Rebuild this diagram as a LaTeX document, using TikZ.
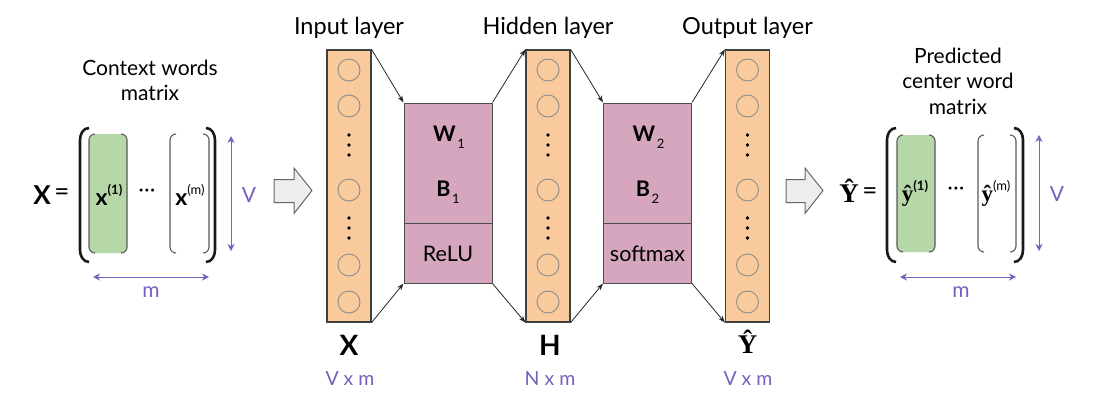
\documentclass[tikz,border=0pt]{standalone}
\usepackage{fontspec}
\setmainfont{Lato}
\newfontfamily\serifb{Liberation Serif}
\usetikzlibrary{arrows.meta,calc}
\definecolor{corange}{HTML}{F9CB9C}
\definecolor{cpink}{HTML}{D5A6BD}
\definecolor{cgreen}{HTML}{B6D7A8}
\definecolor{cpurple}{RGB}{120,95,190}
\begin{document}
\begin{tikzpicture}[x=1pt,y=-1pt,
  layercol/.style={draw=black!75, fill=corange, line width=1.2pt, minimum width=44pt, minimum height=272pt, inner sep=0pt},
  wbox/.style={draw=black!70, fill=cpink, line width=1pt, minimum width=88pt, minimum height=180pt, inner sep=0pt},
  neuron/.style={circle, draw=black!45, minimum size=22pt, inner sep=0pt, line width=0.9pt},
  conn/.style={-{Stealth[length=7pt,width=5pt]}, line width=0.8pt, black!85},
  title/.style={font=\fontsize{23.5}{25}\selectfont, align=center, inner sep=0pt},
  dimlab/.style={text=cpurple, font=\fontsize{19.5}{20}\selectfont, inner sep=0pt},
  dimarrow/.style={{Stealth[length=7pt,width=7pt]}-{Stealth[length=7pt,width=7pt]}, cpurple, line width=1pt},
  blockarrow/.style={draw=black!60, fill=black!7, line width=1pt, line join=miter},
  bigsym/.style={font=\fontsize{28}{28}\selectfont\bfseries, inner sep=0pt},
  boxtxt/.style={font=\fontsize{21.5}{21.5}\selectfont, inner sep=0pt},
  eqsign/.style={font=\fontsize{26}{26}\selectfont, inner sep=0pt},
  outerparen/.style={line width=2.6pt, black!90},
  innerparen/.style={line width=1.1pt, black!65},
  sidelab/.style={text=cpurple, font=\fontsize{21}{21}\selectfont, inner sep=0pt},
]
\useasboundingbox (0,0) rectangle (1098,402);

% ---------- layers ----------
\node[layercol] (in) at (349,186) {};
\node[layercol] (hid) at (548,186) {};
\node[layercol] (out) at (747.5,186) {};
\foreach \c/\xx in {in/349,hid/548,out/747.5}{
  \foreach \yy/\n in {70/1,106/2,190/3,265/4,302/5}
    \node[neuron] (\c\n) at (\xx,\yy) {};
  \foreach \yy in {135,145,155,218,228,238}
    \fill (\xx,\yy) circle (1.8);
}

% ---------- weight boxes ----------
\node[wbox] (b1) at (448,193) {};
\node[wbox] (b2) at (647.5,193) {};
\coordinate (dv) at (0,223);
\draw[black!70, line width=1pt] (b1.west |- dv) -- (b1.east |- dv);
\draw[black!70, line width=1pt] (b2.west |- dv) -- (b2.east |- dv);
\node[boxtxt] (w1) at (449,137) {\textbf{W}\hspace{1.5pt}\raisebox{-0.6ex}{\fontsize{13}{13}\selectfont 1}};
\node[boxtxt] (bb1) at (448,192) {\textbf{B}\hspace{1.5pt}\raisebox{-0.6ex}{\fontsize{13}{13}\selectfont 1}};
\node[boxtxt] (r1) at (448,254) {ReLU};
\node[boxtxt] (w2) at (648.5,137) {\textbf{W}\hspace{1.5pt}\raisebox{-0.6ex}{\fontsize{13}{13}\selectfont 2}};
\node[boxtxt] (bb2) at (647.5,192) {\textbf{B}\hspace{1.5pt}\raisebox{-0.6ex}{\fontsize{13}{13}\selectfont 2}};
\node[boxtxt] (s2) at (647.5,254) {softmax};

% ---------- connectors ----------
\draw[conn] (in.north east) -- (b1.north west);
\draw[conn] (in.south east) -- (b1.south west);
\draw[conn] (b1.north east) -- (hid.north west);
\draw[conn] (b1.south east) -- (hid.south west);
\draw[conn] (hid.north east) -- (b2.north west);
\draw[conn] (hid.south east) -- (b2.south west);
\draw[conn] (b2.north east) -- (out.north west);
\draw[conn] (b2.south east) -- (out.south west);

% ---------- layer labels ----------
\node[title] (tin) at (349,28) {Input layer};
\node[title] (thid) at (548,28) {Hidden layer};
\node[title] (tout) at (747.5,28) {Output layer};
\node[bigsym] (lx) at (349,345) {X};
\node[bigsym] (lh) at (550,345) {H};
\node[bigsym, font=\fontsize{27}{27}\selectfont\serifb\bfseries] (ly) at (747.5,342) {Ŷ};
\node[dimlab] (dx) at (350,379) {V x m};
\node[dimlab] (dh) at (550,379) {N x m};
\node[dimlab] (dy) at (748,379) {V x m};

% ---------- block arrows ----------
\draw[blockarrow] (274,179.5) -- (294,179.5) -- (294,168) -- (312,190.5) -- (294,213.5) -- (294,202.5) -- (274,202.5) -- cycle;
\draw[blockarrow] (786,179.5) -- (805,179.5) -- (805,168) -- (823,190.5) -- (805,213.5) -- (805,202.5) -- (786,202.5) -- cycle;

% ---------- left matrix ----------
\node[title, font=\fontsize{21}{25}\selectfont] (ctx) at (150,80) {Context words\\matrix};
\node[bigsym, font=\fontsize{26}{26}\selectfont\bfseries] (mx) at (42,195) {X};
\node[eqsign] (eq1) at (62,195) {=};
\fill[cgreen, rounded corners=5pt] (89,134) rectangle (127,253);
\draw[outerparen] (89,128) to[out=180,in=90] (80,140) -- (80,250) to[out=-90,in=180] (89,262);
\draw[outerparen] (206,128) to[out=0,in=90] (215,140) -- (215,250) to[out=-90,in=0] (206,262);
\draw[innerparen] (95,134) to[out=180,in=90] (89,140) -- (89,247) to[out=-90,in=180] (95,253);
\draw[innerparen] (121,134) to[out=0,in=90] (127,140) -- (127,247) to[out=-90,in=0] (121,253);
\draw[innerparen] (176,134) to[out=180,in=90] (170,140) -- (170,247) to[out=-90,in=180] (176,253);
\draw[innerparen] (203,134) to[out=0,in=90] (209,140) -- (209,247) to[out=-90,in=0] (203,253);
\node[boxtxt] (x1) at (109,195) {\fontsize{23}{23}\selectfont\textbf{x}\raisebox{1.0ex}{\fontsize{13}{13}\selectfont\bfseries(1)}};
\node[boxtxt] (xd) at (147,193) {\fontsize{20}{20}\selectfont\textperiodcentered\hspace{0.5pt}\textperiodcentered\hspace{0.5pt}\textperiodcentered};
\node[boxtxt] (xm) at (190,195) {\fontsize{23}{23}\selectfont\textbf{x}\raisebox{1.0ex}{\fontsize{13}{13}\selectfont(m)}};
\coordinate (lvt) at (231,136);
\coordinate (lvb) at (231,251);
\draw[dimarrow] (lvt) -- (lvb);
\node[sidelab] (lv) at (249,195) {V};
\coordinate (lml) at (93,277);
\coordinate (lmr) at (209,277);
\draw[dimarrow] (lml) -- (lmr);
\node[sidelab] (lm) at (151,292) {m};

% ---------- right matrix ----------
\node[title, font=\fontsize{21}{25.5}\selectfont] (pred) at (958,81) {Predicted\\center word\\matrix};
\node[bigsym, font=\fontsize{27}{27}\selectfont\serifb\bfseries] (my) at (849,191) {Ŷ};
\node[eqsign] (eq2) at (870,194) {=};
\fill[cgreen, rounded corners=5pt] (897,135) rectangle (935,252);
\draw[outerparen] (896,128) to[out=180,in=90] (887,140) -- (887,250) to[out=-90,in=180] (896,262);
\draw[outerparen] (1014,128) to[out=0,in=90] (1023,140) -- (1023,250) to[out=-90,in=0] (1014,262);
\draw[innerparen] (903,135) to[out=180,in=90] (897,141) -- (897,246) to[out=-90,in=180] (903,252);
\draw[innerparen] (929,135) to[out=0,in=90] (935,141) -- (935,246) to[out=-90,in=0] (929,252);
\draw[innerparen] (984,135) to[out=180,in=90] (978,141) -- (978,246) to[out=-90,in=180] (984,252);
\draw[innerparen] (1010,135) to[out=0,in=90] (1016,141) -- (1016,246) to[out=-90,in=0] (1010,252);
\node[boxtxt] (y1) at (915,193) {{\fontsize{23}{23}\selectfont\serifb\bfseries ŷ}\raisebox{1.0ex}{\fontsize{13}{13}\selectfont\bfseries(1)}};
\node[boxtxt] (yd) at (956,191) {\fontsize{20}{20}\selectfont\textperiodcentered\hspace{0.5pt}\textperiodcentered\hspace{0.5pt}\textperiodcentered};
\node[boxtxt] (ym) at (996,193) {{\fontsize{23}{23}\selectfont\serifb\bfseries ŷ}\raisebox{1.0ex}{\fontsize{13}{13}\selectfont(m)}};
\coordinate (rvt) at (1039,135);
\coordinate (rvb) at (1039,251);
\draw[dimarrow] (rvt) -- (rvb);
\node[sidelab] (rv) at (1057,194) {V};
\coordinate (rml) at (900,277);
\coordinate (rmr) at (1016,277);
\draw[dimarrow] (rml) -- (rmr);
\node[sidelab] (rm) at (961,292) {m};
\end{tikzpicture}
\end{document}
